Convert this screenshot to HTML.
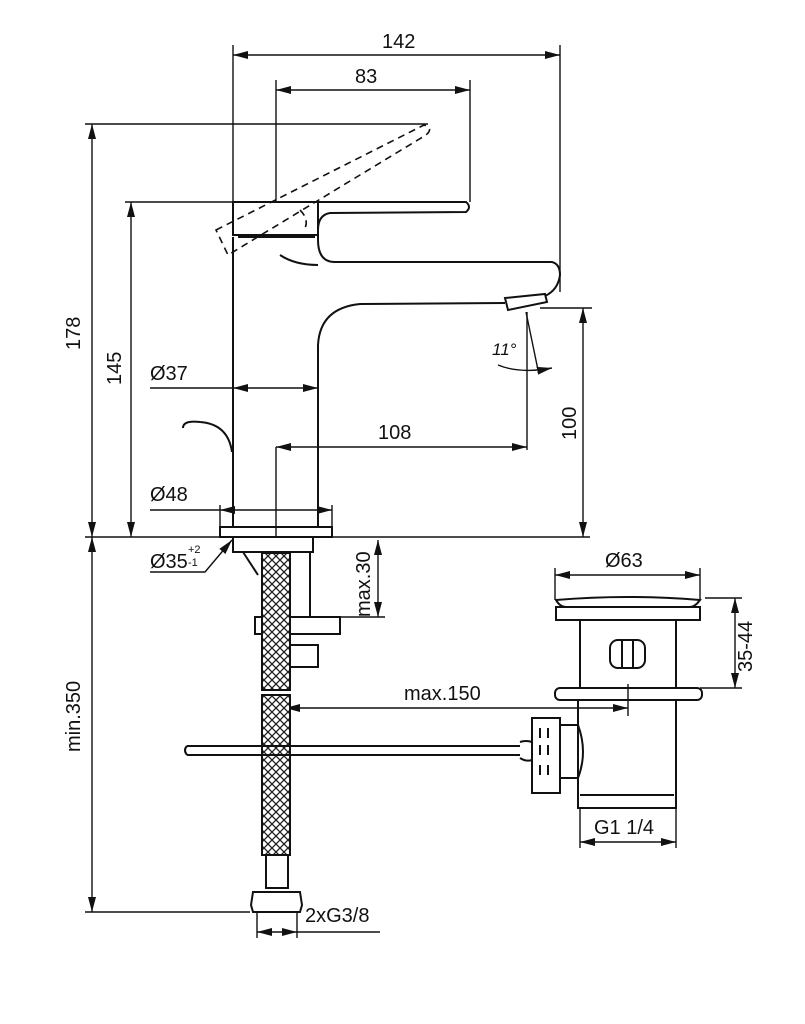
<!DOCTYPE html>
<html><head><meta charset="utf-8"><style>
html,body{margin:0;padding:0;background:#fff;}
svg{display:block;}
text{font-family:"Liberation Sans",Arial,sans-serif;font-size:20px;fill:#111;}
</style></head><body>
<svg width="805" height="1024" viewBox="0 0 805 1024" xmlns="http://www.w3.org/2000/svg">
<defs>
<marker id="a" viewBox="0 0 15 8" refX="15" refY="4" markerWidth="15" markerHeight="8" markerUnits="userSpaceOnUse" orient="auto-start-reverse">
<path d="M0,0 L15,4 L0,8 z" fill="#111"/>
</marker>
<pattern id="br" width="8" height="8" patternUnits="userSpaceOnUse">
<rect width="8" height="8" fill="#fff"/>
<path d="M0,0 L4,4 L0,8 M8,0 L4,4 L8,8" stroke="#222" stroke-width="1.3" fill="none"/>
</pattern>
</defs>
<g stroke="#111" stroke-width="1.4" fill="none">
<line x1="233" y1="55" x2="560" y2="55" marker-start="url(#a)" marker-end="url(#a)"/>
<line x1="233" y1="45" x2="233" y2="202"/>
<line x1="560" y1="45" x2="560" y2="292"/>
<line x1="276" y1="90" x2="470" y2="90" marker-start="url(#a)" marker-end="url(#a)"/>
<line x1="276" y1="80" x2="276" y2="202"/>
<line x1="470" y1="80" x2="470" y2="202"/>
<line x1="92" y1="124" x2="92" y2="537" marker-start="url(#a)" marker-end="url(#a)"/>
<line x1="85" y1="124" x2="428" y2="124"/>
<line x1="131" y1="202" x2="131" y2="537" marker-start="url(#a)" marker-end="url(#a)"/>
<line x1="125" y1="202" x2="233" y2="202"/>
<line x1="85" y1="537" x2="590" y2="537"/>
<line x1="583" y1="308" x2="583" y2="537" marker-start="url(#a)" marker-end="url(#a)"/>
<line x1="540" y1="308" x2="592" y2="308"/>
<line x1="150" y1="388" x2="233" y2="388"/>
<line x1="233" y1="388" x2="318" y2="388" marker-start="url(#a)" marker-end="url(#a)"/>
<line x1="276" y1="447" x2="527" y2="447" marker-start="url(#a)" marker-end="url(#a)"/>
<line x1="276" y1="447" x2="276" y2="537"/>
<line x1="527" y1="312" x2="527" y2="450"/>
<line x1="150" y1="510" x2="220" y2="510"/>
<line x1="220" y1="510" x2="332" y2="510" marker-start="url(#a)" marker-end="url(#a)"/>
<line x1="220" y1="505" x2="220" y2="528"/>
<line x1="332" y1="505" x2="332" y2="528"/>
<line x1="526" y1="312" x2="538" y2="370"/>
<path d="M498,365 Q520,374 552,368" marker-end="url(#a)"/>
<path d="M150,572 L205,572 L232,540" marker-end="url(#a)"/>
<line x1="378" y1="540" x2="378" y2="617" marker-start="url(#a)" marker-end="url(#a)"/>
<line x1="340" y1="617" x2="385" y2="617"/>
<line x1="92" y1="537" x2="92" y2="912" marker-start="url(#a)" marker-end="url(#a)"/>
<line x1="85" y1="912" x2="250" y2="912"/>
<line x1="285" y1="708" x2="628" y2="708" marker-start="url(#a)" marker-end="url(#a)"/>
<line x1="628" y1="684" x2="628" y2="716"/>
<line x1="555" y1="575" x2="700" y2="575" marker-start="url(#a)" marker-end="url(#a)"/>
<line x1="555" y1="568" x2="555" y2="600"/><line x1="700" y1="568" x2="700" y2="600"/>
<line x1="735" y1="598" x2="735" y2="688" marker-start="url(#a)" marker-end="url(#a)"/>
<line x1="705" y1="598" x2="742" y2="598"/><line x1="700" y1="688" x2="742" y2="688"/>
<line x1="580" y1="842" x2="676" y2="842" marker-start="url(#a)" marker-end="url(#a)"/>
<line x1="580" y1="808" x2="580" y2="848"/><line x1="676" y1="808" x2="676" y2="848"/>
<line x1="257" y1="932" x2="297" y2="932" marker-start="url(#a)" marker-end="url(#a)"/>
<line x1="297" y1="932" x2="380" y2="932"/>
<line x1="257" y1="912" x2="257" y2="938"/><line x1="297" y1="912" x2="297" y2="938"/>
</g>
<g stroke="#111" stroke-width="2" fill="none">
<path d="M233,202 L466,202 Q472,207 466,212 L330,213 Q318,215 318,230 L318,240"/>
<rect x="233" y="202" width="85" height="33"/>
<line x1="238" y1="237" x2="315" y2="237"/>
<path d="M233,237 L233,527"/>
<path d="M318,240 Q318,262 335,262 L552,262 Q560,264 560,275 Q558,290 545,296"/>
<path d="M280,255 Q295,265 318,265"/>
<path d="M505,303 L360,304 Q320,308 318,345 L318,527"/>
<path d="M505,298 L545,294 L547,302 L508,310 z"/>
<path d="M183,428 Q183,420 200,422 Q228,424 232,452"/>
<rect x="220" y="527" width="112" height="10"/>
<rect x="233" y="537" width="80" height="15"/>
<path d="M243,552 L258,575"/>
<rect x="290" y="552" width="20" height="65"/>
<rect x="255" y="617" width="85" height="17"/>
<rect x="290" y="645" width="28" height="22"/>
<rect x="262" y="553" width="28" height="137" fill="url(#br)"/>
<rect x="262" y="695" width="28" height="160" fill="url(#br)"/>
<rect x="266" y="855" width="22" height="33"/>
<path d="M253,892 L300,892 L302,905 L300,912 L253,912 L251,905 z"/>
<path d="M187,746 L520,746 M187,755 L520,755 M187,746 Q183,750 187,755"/>
<path d="M556,600 Q628,594 700,600 Q695,607 690,607 L566,607 Q560,607 556,600z"/>
<rect x="556" y="607" width="144" height="13"/>
<path d="M580,620 L580,688 M676,620 L676,688"/>
<rect x="610" y="640" width="35" height="28" rx="8"/>
<path d="M622,640 L622,668 M633,640 L633,668"/>
<rect x="555" y="688" width="147" height="12" rx="5"/>
<path d="M578,700 L578,808 L676,808 L676,700"/>
<line x1="580" y1="795" x2="674" y2="795"/>
<rect x="532" y="718" width="28" height="75"/>
<path d="M560,725 L578,725 Q588,752 578,778 L560,778"/>
<path d="M520,742 Q526,740 532,742 L532,760 Q526,762 520,758"/>
<path d="M540,728 v10 M548,728 v10 M540,745 v10 M548,745 v10 M540,765 v10 M548,765 v10"/>
</g>
<g stroke="#111" stroke-width="1.6" fill="none" stroke-dasharray="7,5">
<path d="M216,230 L424,125 Q434,128 426,135 L228,255 z"/>
<path d="M300,210 Q310,220 304,230"/>
</g>
<g>
<text x="382" y="48">142</text>
<text x="355" y="83">83</text>
<text transform="translate(80,350) rotate(-90)">178</text>
<text transform="translate(121,385) rotate(-90)">145</text>
<text transform="translate(576,440) rotate(-90)">100</text>
<text x="150" y="380">Ø37</text>
<text x="378" y="439">108</text>
<text x="150" y="501">Ø48</text>
<text x="150" y="568">Ø35</text>
<text x="188" y="553" style="font-size:11px">+2</text>
<text x="188" y="566" style="font-size:11px">-1</text>
<text x="492" y="355" style="font-size:17px;font-style:italic">11°</text>
<text transform="translate(370,617) rotate(-90)">max.30</text>
<text transform="translate(80,752) rotate(-90)">min.350</text>
<text x="404" y="700">max.150</text>
<text x="605" y="567">Ø63</text>
<text transform="translate(752,672) rotate(-90)">35-44</text>
<text x="594" y="834">G1 1/4</text>
<text x="305" y="922">2xG3/8</text>
</g>
</svg>
</body></html>
